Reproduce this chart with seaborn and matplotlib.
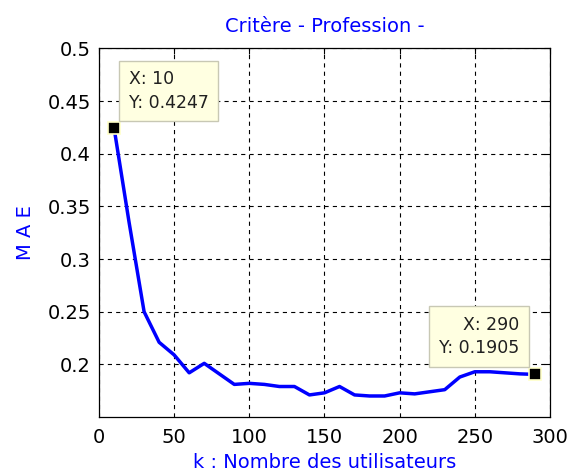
import matplotlib
matplotlib.use("Agg")
import matplotlib.pyplot as plt
import seaborn as sns
import pandas as pd

# Mean absolute error against neighbourhood size k
k_values = [10, 20, 30, 40, 50, 60, 70, 80, 90, 100,
            110, 120, 130, 140, 150, 160, 170, 180, 190, 200,
            210, 220, 230, 240, 250, 260, 270, 280, 290]
mae_values = [0.4247, 0.335, 0.250, 0.221, 0.209, 0.192, 0.201, 0.191, 0.181, 0.182,
              0.181, 0.179, 0.179, 0.171, 0.173, 0.179, 0.171, 0.170, 0.170, 0.173,
              0.172, 0.174, 0.176, 0.188, 0.193, 0.193, 0.192, 0.191, 0.1905]

x_ticks = [0, 50, 100, 150, 200, 250, 300]
y_ticks = [0.2, 0.25, 0.3, 0.35, 0.4, 0.45, 0.5]
y_tick_labels = ["0.2", "0.25", "0.3", "0.35", "0.4", "0.45", "0.5"]

title_text = "Critère - Profession -"
x_label = "k : Nombre des utilisateurs"
y_label = "M A E"

# data tips: (k, MAE)
tip_first = (10, 0.4247)
tip_last = (290, 0.1905)

sns.set_style("white")
plt.rcParams["font.family"] = ["DejaVu Sans"]
plt.rcParams["lines.scale_dashes"] = False

df = pd.DataFrame({"k": k_values, "MAE": mae_values})

fig = plt.figure(figsize=(5.67, 4.75), dpi=100)
fig.patch.set_facecolor("white")
ax = fig.add_axes([0.1746, 0.122, 0.7954, 0.776])

sns.lineplot(data=df, x="k", y="MAE", ax=ax, color="#0000FF", linewidth=2.5)

ax.set_xlim(0, 300)
ax.set_ylim(0.15, 0.5)
ax.set_xticks(x_ticks)
ax.set_yticks(y_ticks)
ax.set_yticklabels(y_tick_labels)

ax.grid(True, color="black", linestyle=(0, (3, 3)), linewidth=0.8)
ax.set_axisbelow(True)
for side in ["top", "bottom", "left", "right"]:
    ax.spines[side].set_visible(True)
    ax.spines[side].set_color("black")
    ax.spines[side].set_linewidth(0.9)
ax.tick_params(direction="in", length=4, width=0.8, top=True, right=True,
               labelsize=14, colors="black")
ax.tick_params(axis="x", pad=8)
ax.tick_params(axis="y", pad=6)

ax.set_title(title_text, color="#0000FF", fontsize=14, pad=12)
ax.set_xlabel(x_label, color="#0000FF", fontsize=14, labelpad=4)
ax.set_ylabel(y_label, color="#0000FF", fontsize=14, labelpad=9)

tip_box = dict(boxstyle="square,pad=0.55", facecolor="#FFFFE1", edgecolor="#C8C8B4", linewidth=1)

for (tx, ty), offset, halign in [(tip_first, (15, 16), "left"), (tip_last, (-16, 17), "right")]:
    ax.plot([tx], [ty], marker="s", markersize=8.5, color="black",
            markeredgecolor="#FFFFC8", markeredgewidth=1.2, zorder=5, clip_on=False)
    ax.annotate(f"X: {tx}\nY: {ty:.4f}", xy=(tx, ty), xytext=offset,
                textcoords="offset pixels", ha=halign, va="bottom",
                multialignment=halign, fontsize=12.5, linespacing=1.4,
                color="#202020", bbox=tip_box, zorder=6, annotation_clip=False)

fig.savefig("out.png", dpi=100, facecolor="white")
